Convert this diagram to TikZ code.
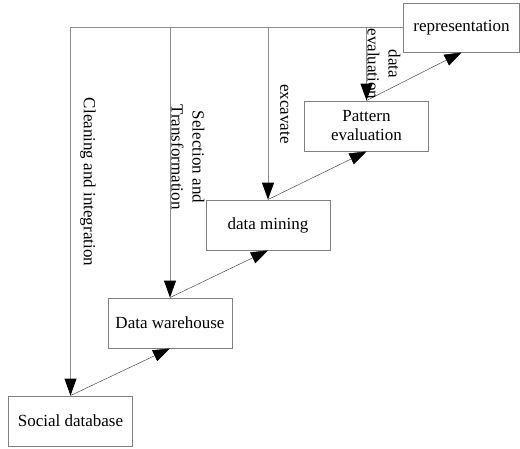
\documentclass[tikz,border=0pt]{standalone}
\usepackage{fontspec}
\setmainfont{Liberation Serif}
\usetikzlibrary{arrows.meta}
\begin{document}
\begin{tikzpicture}[x=1pt,y=-1pt,
  every node/.style={font=\fontsize{17}{21}\selectfont},
  stagebox/.style={draw=black!50,line width=0.9pt,fill=white,minimum width=124pt,minimum height=50pt,inner sep=0pt,align=center},
  tip/.style={-{Triangle[length=17pt,width=12pt,color=black]}},
  feed/.style={tip,draw=black!45,line width=0.9pt},
  rise/.style={tip,draw=black!70,line width=0.5pt},
  lbl/.style={rotate=-90,align=center,inner sep=0pt}]
\useasboundingbox (0,0) rectangle (520,448);
\node[stagebox,minimum width=116pt,minimum height=49pt] (rep) at (461.5,27.5) {representation};
\node[stagebox] (pe) at (366.5,126) {Pattern\\[-2pt]evaluation};
\node[stagebox] (dm) at (268,225) {data mining};
\node[stagebox] (dw) at (170,323) {Data warehouse};
\node[stagebox] (sd) at (70.5,421) {Social database};
\draw[feed] (rep.west) -| (sd.north);
\draw[feed] (dw.north |- rep.west) -- (dw.north);
\draw[feed] (dm.north |- rep.west) -- (dm.north);
\draw[feed] (pe.north |- rep.west) -- (pe.north);
\draw[rise] (sd.north) -- (dw.south);
\draw[rise] (dw.north) -- (dm.south);
\draw[rise] (dm.north) -- (pe.south);
\draw[rise] (pe.north) -- (rep.south);
\node[lbl] (l1) at (88,182) {Cleaning and integration};
\node[lbl] (l2) at (188,157) {Selection and\\Transformation};
\node[lbl] (l3) at (285,114) {excavate};
\node[lbl] (l4) at (384,64) {data\\evaluation};
\end{tikzpicture}
\end{document}
